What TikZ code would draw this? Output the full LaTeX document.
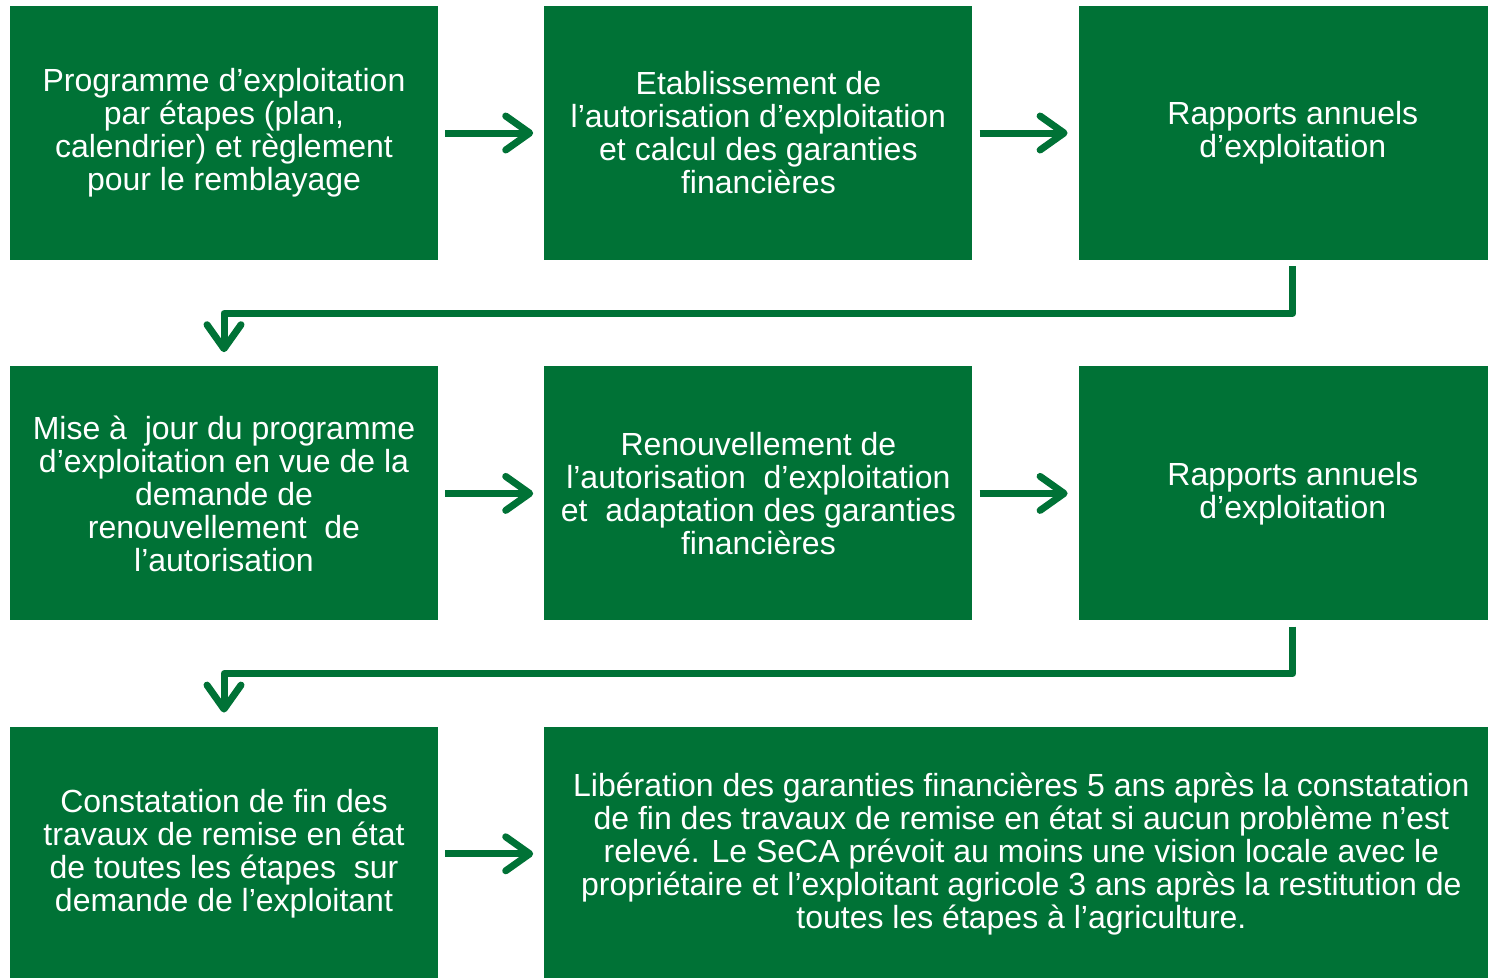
\documentclass[tikz,border=0pt]{standalone}
\usepackage{fontspec}
\setmainfont{Liberation Sans}
\usetikzlibrary{arrows.meta,positioning}
\definecolor{secagreen}{HTML}{007236}

\begin{document}
\begin{tikzpicture}[x=1pt,y=-1pt,node distance=106pt,
  green box/.style={fill=secagreen,text=white,align=center,inner sep=0pt,
    minimum width=428pt,minimum height=254pt,font=\fontsize{32}{33}\selectfont},
  flow arrow/.style={draw=secagreen,line width=7pt,line join=round,
    -{Straight Barb[length=24pt,width=34pt,round]}}]

  \useasboundingbox (0,0) rectangle (1488,977);

  \node[green box] (plan) at (224,133) {Programme d’exploitation\\par étapes (plan,\\calendrier) et règlement\\pour le remblayage};
  \node[green box] (auth) [right=of plan] {Etablissement de\\l’autorisation d’exploitation\\et calcul des garanties\\financières};
  \node[green box] (rep1) [right=of auth] {Rapports annuels\\d’exploitation};

  \node[green box] (update) [below=of plan] {Mise à~ jour du programme\\d’exploitation en vue de la\\demande de\\renouvellement~ de\\l’autorisation};
  \node[green box] (renew) [right=of update] {Renouvellement de\\l’autorisation~ d’exploitation\\et~ adaptation des garanties\\financières};
  \node[green box] (rep2) [right=of renew] {Rapports annuels\\d’exploitation};

  \node[green box] (finish) [below=of update] {Constatation de fin des\\travaux de remise en état\\de toutes les étapes~ sur\\demande de l’exploitant};
  \node[green box, minimum width=954pt] (release) [right=of finish] {Libération des garanties financières 5 ans après la constatation\\de fin des travaux de remise en état si aucun problème n’est\\relevé. Le SeCA prévoit au moins une vision locale avec le\\propriétaire et l’exploitant agricole 3 ans après la restitution de\\toutes les étapes à l’agriculture.};

  \path[shorten <=7pt,shorten >=11pt]
    (plan) edge[flow arrow] (auth)
    (auth) edge[flow arrow] (rep1)
    (update) edge[flow arrow] (renew)
    (renew) edge[flow arrow] (rep2)
    (finish) edge[flow arrow] (release);

  \draw[flow arrow,shorten <=6pt,shorten >=14pt] (rep1.south) -- ++(0,53) -| (update.north);
  \draw[flow arrow,shorten <=6pt,shorten >=14pt] (rep2.south) -- ++(0,53) -| (finish.north);
\end{tikzpicture}
\end{document}
